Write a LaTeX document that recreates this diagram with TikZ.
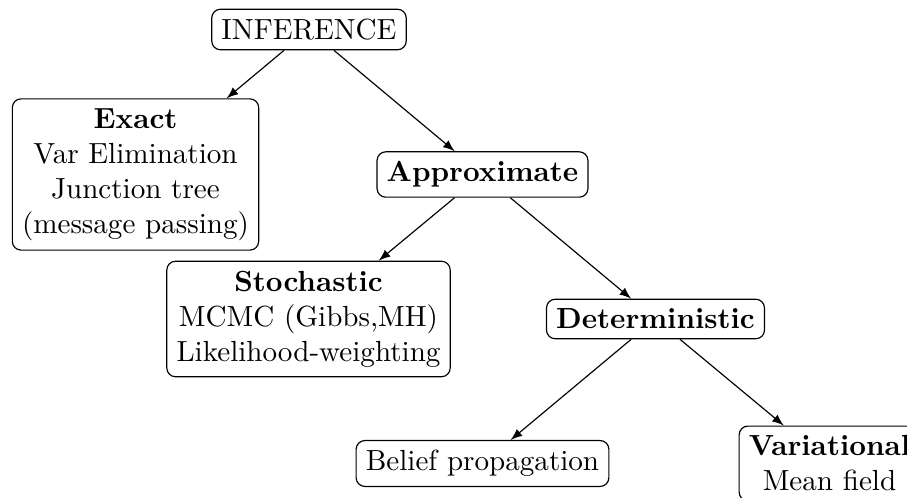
\documentclass[tikz,border=0pt]{standalone}
\usetikzlibrary{arrows}
\begin{document}
\begin{tikzpicture}[x=0.3436pt,y=-0.3436pt,
  box/.style={draw, rounded corners=3pt, align=center, inner sep=3.33pt},
  edge/.style={-latex, line width=0.4pt}]
\useasboundingbox (0,0) rectangle (907,498);
\clip (0,0) rectangle (907,498);
\node[box] (inf) at (309,29.5) {INFERENCE};
\node[box] (exact) at (135.5,174.5) {\textbf{Exact}\\Var Elimination\\Junction tree\\(message passing)};
\node[box] (approx) at (482.5,174.5) {\textbf{Approximate}};
\node[box] (stoch) at (308.5,319) {\textbf{Stochastic}\\MCMC (Gibbs,MH)\\Likelihood-weighting};
\node[box] (det) at (655.5,319) {\textbf{Deterministic}};
\node[box] (bp) at (482.5,463.5) {Belief propagation};
\node[box] (var) at (829.5,463.5) {\textbf{Variational}\\Mean field};
\draw[edge] (inf) -- (exact);
\draw[edge] (inf) -- (approx);
\draw[edge] (approx) -- (stoch);
\draw[edge] (approx) -- (det);
\draw[edge] (det) -- (bp);
\draw[edge] (det) -- (var);
\end{tikzpicture}
\end{document}
